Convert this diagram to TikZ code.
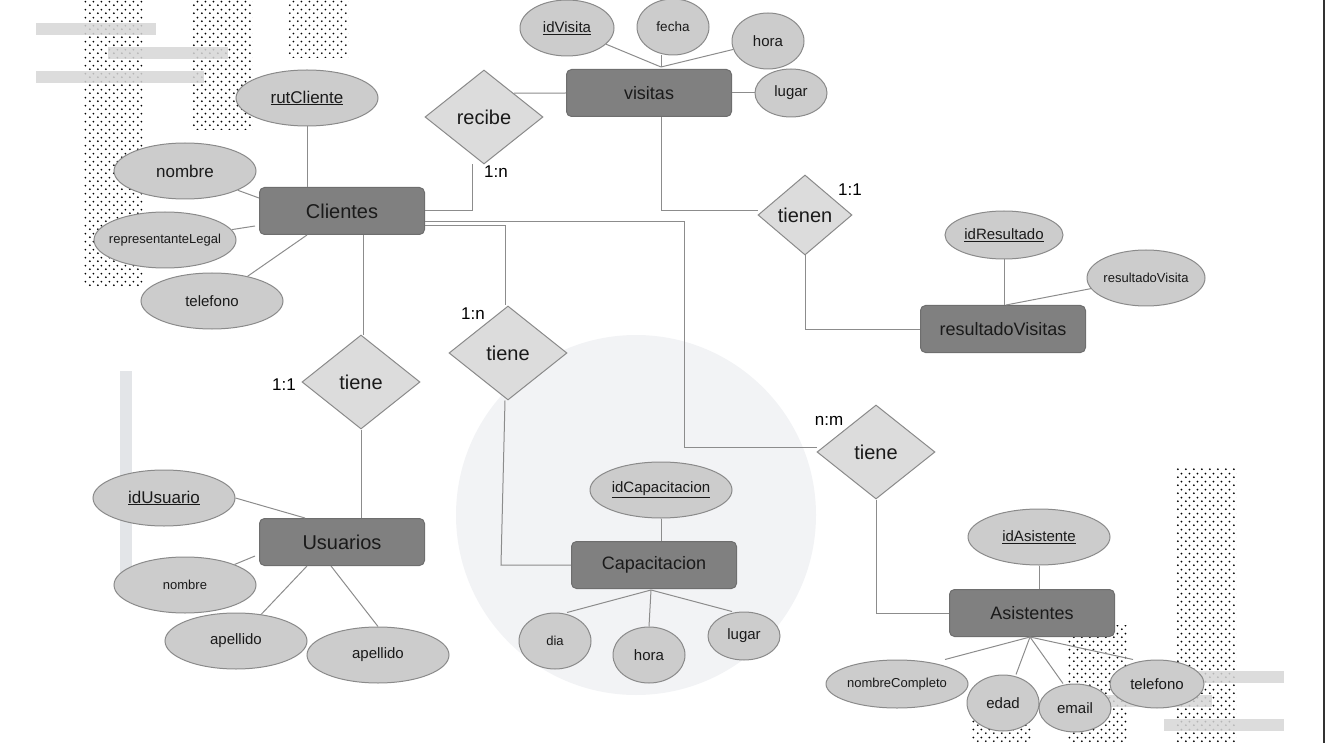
\documentclass[tikz,border=0pt]{standalone}
\usepackage{fontspec}
\setmainfont{Liberation Sans}
\usetikzlibrary{shapes.geometric,patterns.meta,calc}

\definecolor{entFill}{HTML}{808080}
\definecolor{entBorder}{HTML}{6E6E6E}
\definecolor{relFill}{HTML}{DCDCDC}
\definecolor{attrFill}{HTML}{CCCCCC}
\definecolor{shapeBorder}{HTML}{8A8A8A}
\definecolor{lineGray}{HTML}{8C8C8C}
\definecolor{txtDark}{HTML}{1A1A1A}
\definecolor{circleBg}{HTML}{F2F3F5}
\definecolor{barBlue}{HTML}{E3E5E8}
\definecolor{barGray}{HTML}{D6D6D6}
\definecolor{borderGray}{HTML}{333333}

\tikzdeclarepattern{
  name=erdots,
  type=uncolored,
  bounding box={(0pt,0pt) and (8pt,8pt)},
  tile size={(8pt,8pt)},
  code={\fill (2pt,2pt) circle (1.1pt); \fill (6pt,6pt) circle (1.1pt);}
}

\newcommand{\fs}[1]{\fontsize{#1}{#1}\selectfont}

\tikzset{
  entity/.style={rectangle, rounded corners=5pt, draw=entBorder, line width=1pt, fill=entFill,
    minimum width=165pt, minimum height=47pt, text=txtDark, font=\fs{18}},
  rel/.style={diamond, draw=shapeBorder, line width=1pt, fill=relFill, inner sep=0pt,
    minimum width=118pt, minimum height=94pt, text=txtDark, font=\fs{20}},
  attr/.style={ellipse, draw=shapeBorder, line width=1pt, fill=attrFill, inner ysep=0pt, inner xsep=-10pt,
    minimum width=142pt, minimum height=56pt, text=txtDark, font=\fs{15}},
  card/.style={inner sep=0pt, text=black, font=\fs{17}},
  link/.style={draw=lineGray, line width=1pt},
  dotted strip/.style={pattern=erdots, pattern color=black},
}

\begin{document}
\begin{tikzpicture}[x=1pt, y=-1pt]
    \useasboundingbox (0,0) rectangle (1325,743);

    \fill[circleBg] (636,515) circle (180pt);
    \fill[barBlue] (120,371) rectangle (132,575);

    \fill[dotted strip] (84,0) rectangle (144,287);
    \fill[dotted strip] (192,0) rectangle (252,130);
    \fill[dotted strip] (288,0) rectangle (348,58);
    \fill[dotted strip] (1176,468) rectangle (1236,743);
    \fill[dotted strip] (1068,625) rectangle (1128,743);
    \fill[dotted strip] (972,690) rectangle (1032,743);

    \fill[barGray, fill opacity=0.85] (36,23) rectangle (156,35);
    \fill[barGray, fill opacity=0.85] (108,47) rectangle (228,59);
    \fill[barGray, fill opacity=0.85] (36,71) rectangle (204,83);
    \fill[barGray, fill opacity=0.85] (1164,671) rectangle (1284,683);
    \fill[barGray, fill opacity=0.85] (1092,695) rectangle (1212,707);
    \fill[barGray, fill opacity=0.85] (1164,719) rectangle (1284,731);

    \draw[borderGray, line width=2pt] (1324,0) -- (1324,743);

    \node[entity, font=\fs{20}] (clientes) at (342,211) {Clientes};
    \node[entity] (visitas) at (649,93) {visitas};
    \node[entity] (resultados) at (1003,329) {resultadoVisitas};
    \node[entity, font=\fs{20}] (usuarios) at (342,542) {Usuarios};
    \node[entity] (capacitacion) at (654,565) {Capacitacion};
    \node[entity] (asistentes) at (1032,613) {Asistentes};

    \node[rel] (recibe) at (484,117) {recibe};
    \node[rel, minimum width=94pt, minimum height=80pt] (tienen) at (805,215) {tienen};
    \node[rel] (tieneUsu) at (361,382) {tiene};
    \node[rel] (tieneCap) at (508,353) {tiene};
    \node[rel] (tieneAsi) at (876,452) {tiene};

    \node[attr, font=\fs{17}] (rutCliente) at (307,98) {\underline{rutCliente}};
    \node[attr, font=\fs{17}] (nombreCli) at (185,171) {nombre};
    \node[attr, font=\fs{13}] (repLegal) at (165,240) {representanteLegal};
    \node[attr] (telCli) at (212,301) {telefono};

    \node[attr, minimum width=94pt] (idVisita) at (567,28) {\underline{idVisita}};
    \node[attr, minimum width=72pt, font=\fs{13.5}] (fecha) at (673,27) {fecha};
    \node[attr, minimum width=72pt] (horaVis) at (768,41) {hora};
    \node[attr, minimum width=72pt, minimum height=48pt] (lugarVis) at (791,93) {lugar};

    \node[attr, minimum width=118pt, minimum height=48pt] (idResultado) at (1004,235) {\underline{idResultado}};
    \node[attr, minimum width=118pt, font=\fs{13}] (resVisita) at (1146,278) {resultadoVisita};

    \node[attr, font=\fs{17}] (idUsuario) at (164,498) {\underline{idUsuario}};
    \node[attr, font=\fs{13}] (nombreUsu) at (185,585) {nombre};
    \node[attr] (apellidoA) at (236,641) {apellido};
    \node[attr] (apellidoB) at (378,655) {apellido};

    \node[attr] (idCap) at (661,490) {\underline{idCapacitacion}};
    \node[attr, minimum width=72pt, font=\fs{13}] (dia) at (555,641) {dia};
    \node[attr, minimum width=72pt] (horaCap) at (649,655) {hora};
    \node[attr, minimum width=72pt, minimum height=48pt] (lugarCap) at (744,636) {lugar};

    \node[attr] (idAsistente) at (1039,537) {\underline{idAsistente}};
    \node[attr, minimum height=48pt, font=\fs{13}] (nomCompleto) at (897,684) {nombreCompleto};
    \node[attr, minimum width=72pt] (edad) at (1003,703) {edad};
    \node[attr, minimum width=72pt, minimum height=48pt] (email) at (1075,708) {email};
    \node[attr, minimum width=94pt, minimum height=48pt] (telAsi) at (1157,684) {telefono};

    \node[card] (cardRecibe) at (496,172) {1:n};
    \node[card] (cardTienen) at (850,190) {1:1};
    \node[card] (cardUsu) at (284,385) {1:1};
    \node[card] (cardCap) at (473,314) {1:n};
    \node[card] (cardAsi) at (829,421) {n:m};

    \coordinate (visTop) at ($(visitas.north)+(12,-2)$);
    \coordinate (capBot) at ($(capacitacion.south)+(-3,1)$);
    \coordinate (asiBot) at ($(asistentes.south)+(-2,0)$);

    \draw[link] (rutCliente) -- (clientes.north -| rutCliente);
    \draw[link] (nombreCli) -- ($(clientes.north west)+(0,11)$);
    \draw[link] (repLegal) -- ($(clientes.west)+(-4,15)$);
    \draw[link] (telCli) -- (clientes.south -| rutCliente);

    \draw[link] (idVisita) -- (visTop);
    \draw[link] (fecha.south -| visTop) -- (visTop);
    \draw[link] (horaVis) -- (visTop);
    \draw[link] (visitas.east) -- (lugarVis);

    \draw[link] (idResultado) -- (idResultado |- resultados.north);
    \draw[link] (resVisita) -- ($(resultados.north)+(3,0)$);

    \draw[link] (idUsuario.east) -- ($(usuarios.north west)+(46,0)$);
    \draw[link] (nombreUsu) -- ($(usuarios.west)+(-4,14)$);
    \draw[link] (apellidoA) -- ($(usuarios.south)+(-35,0)$);
    \draw[link] (apellidoB.north) -- ($(usuarios.south)+(-11,0)$);

    \draw[link] (idCap) -- (idCap |- capacitacion.north);
    \draw[link] (capBot) -- ($(dia.north)+(12,0)$);
    \draw[link] (capBot) -- (horaCap.north);
    \draw[link] (capBot) -- ($(lugarCap.north)+(-12,0)$);

    \draw[link] (idAsistente) -- (idAsistente |- asistentes.north);
    \draw[link] (asiBot) -- ($(nomCompleto.north)+(48,0)$);
    \draw[link] (asiBot) -- ($(edad.north)+(13,0)$);
    \draw[link] (asiBot) -- ($(email.north)+(-12,0)$);
    \draw[link] (asiBot) -- ($(telAsi.north)+(-24,0)$);

    \draw[link] (clientes.east) -| ($(recibe.south)+(-12,0)$);
    \draw[link] (recibe.north east) -- (visitas.west);
    \draw[link] ($(visitas.south)+(12,0)$) |- ($(tienen.west)+(0,-4)$);
    \draw[link] (tienen.south) |- (resultados.west);
    \draw[link] ($(tieneUsu.north |- clientes.south)+(2,0)$) -- ($(tieneUsu.north)+(2,0)$);
    \draw[link] (tieneUsu.south) -- (tieneUsu.south |- usuarios.north);
    \draw[link] ($(clientes.east)+(0,15)$) -| ($(tieneCap.north)+(-3,0)$);
    \draw[link] ($(tieneCap.south)+(-3,0)$) -- ($(capacitacion.west)+(-70,0)$) -- (capacitacion.west);
    \draw[link] ($(clientes.east)+(0,11)$) -| ($(tieneAsi.west)+(-132,-5)$) -- ($(tieneAsi.west)+(0,-5)$);
    \draw[link] (tieneAsi.south) |- (asistentes.west);
\end{tikzpicture}
\end{document}
